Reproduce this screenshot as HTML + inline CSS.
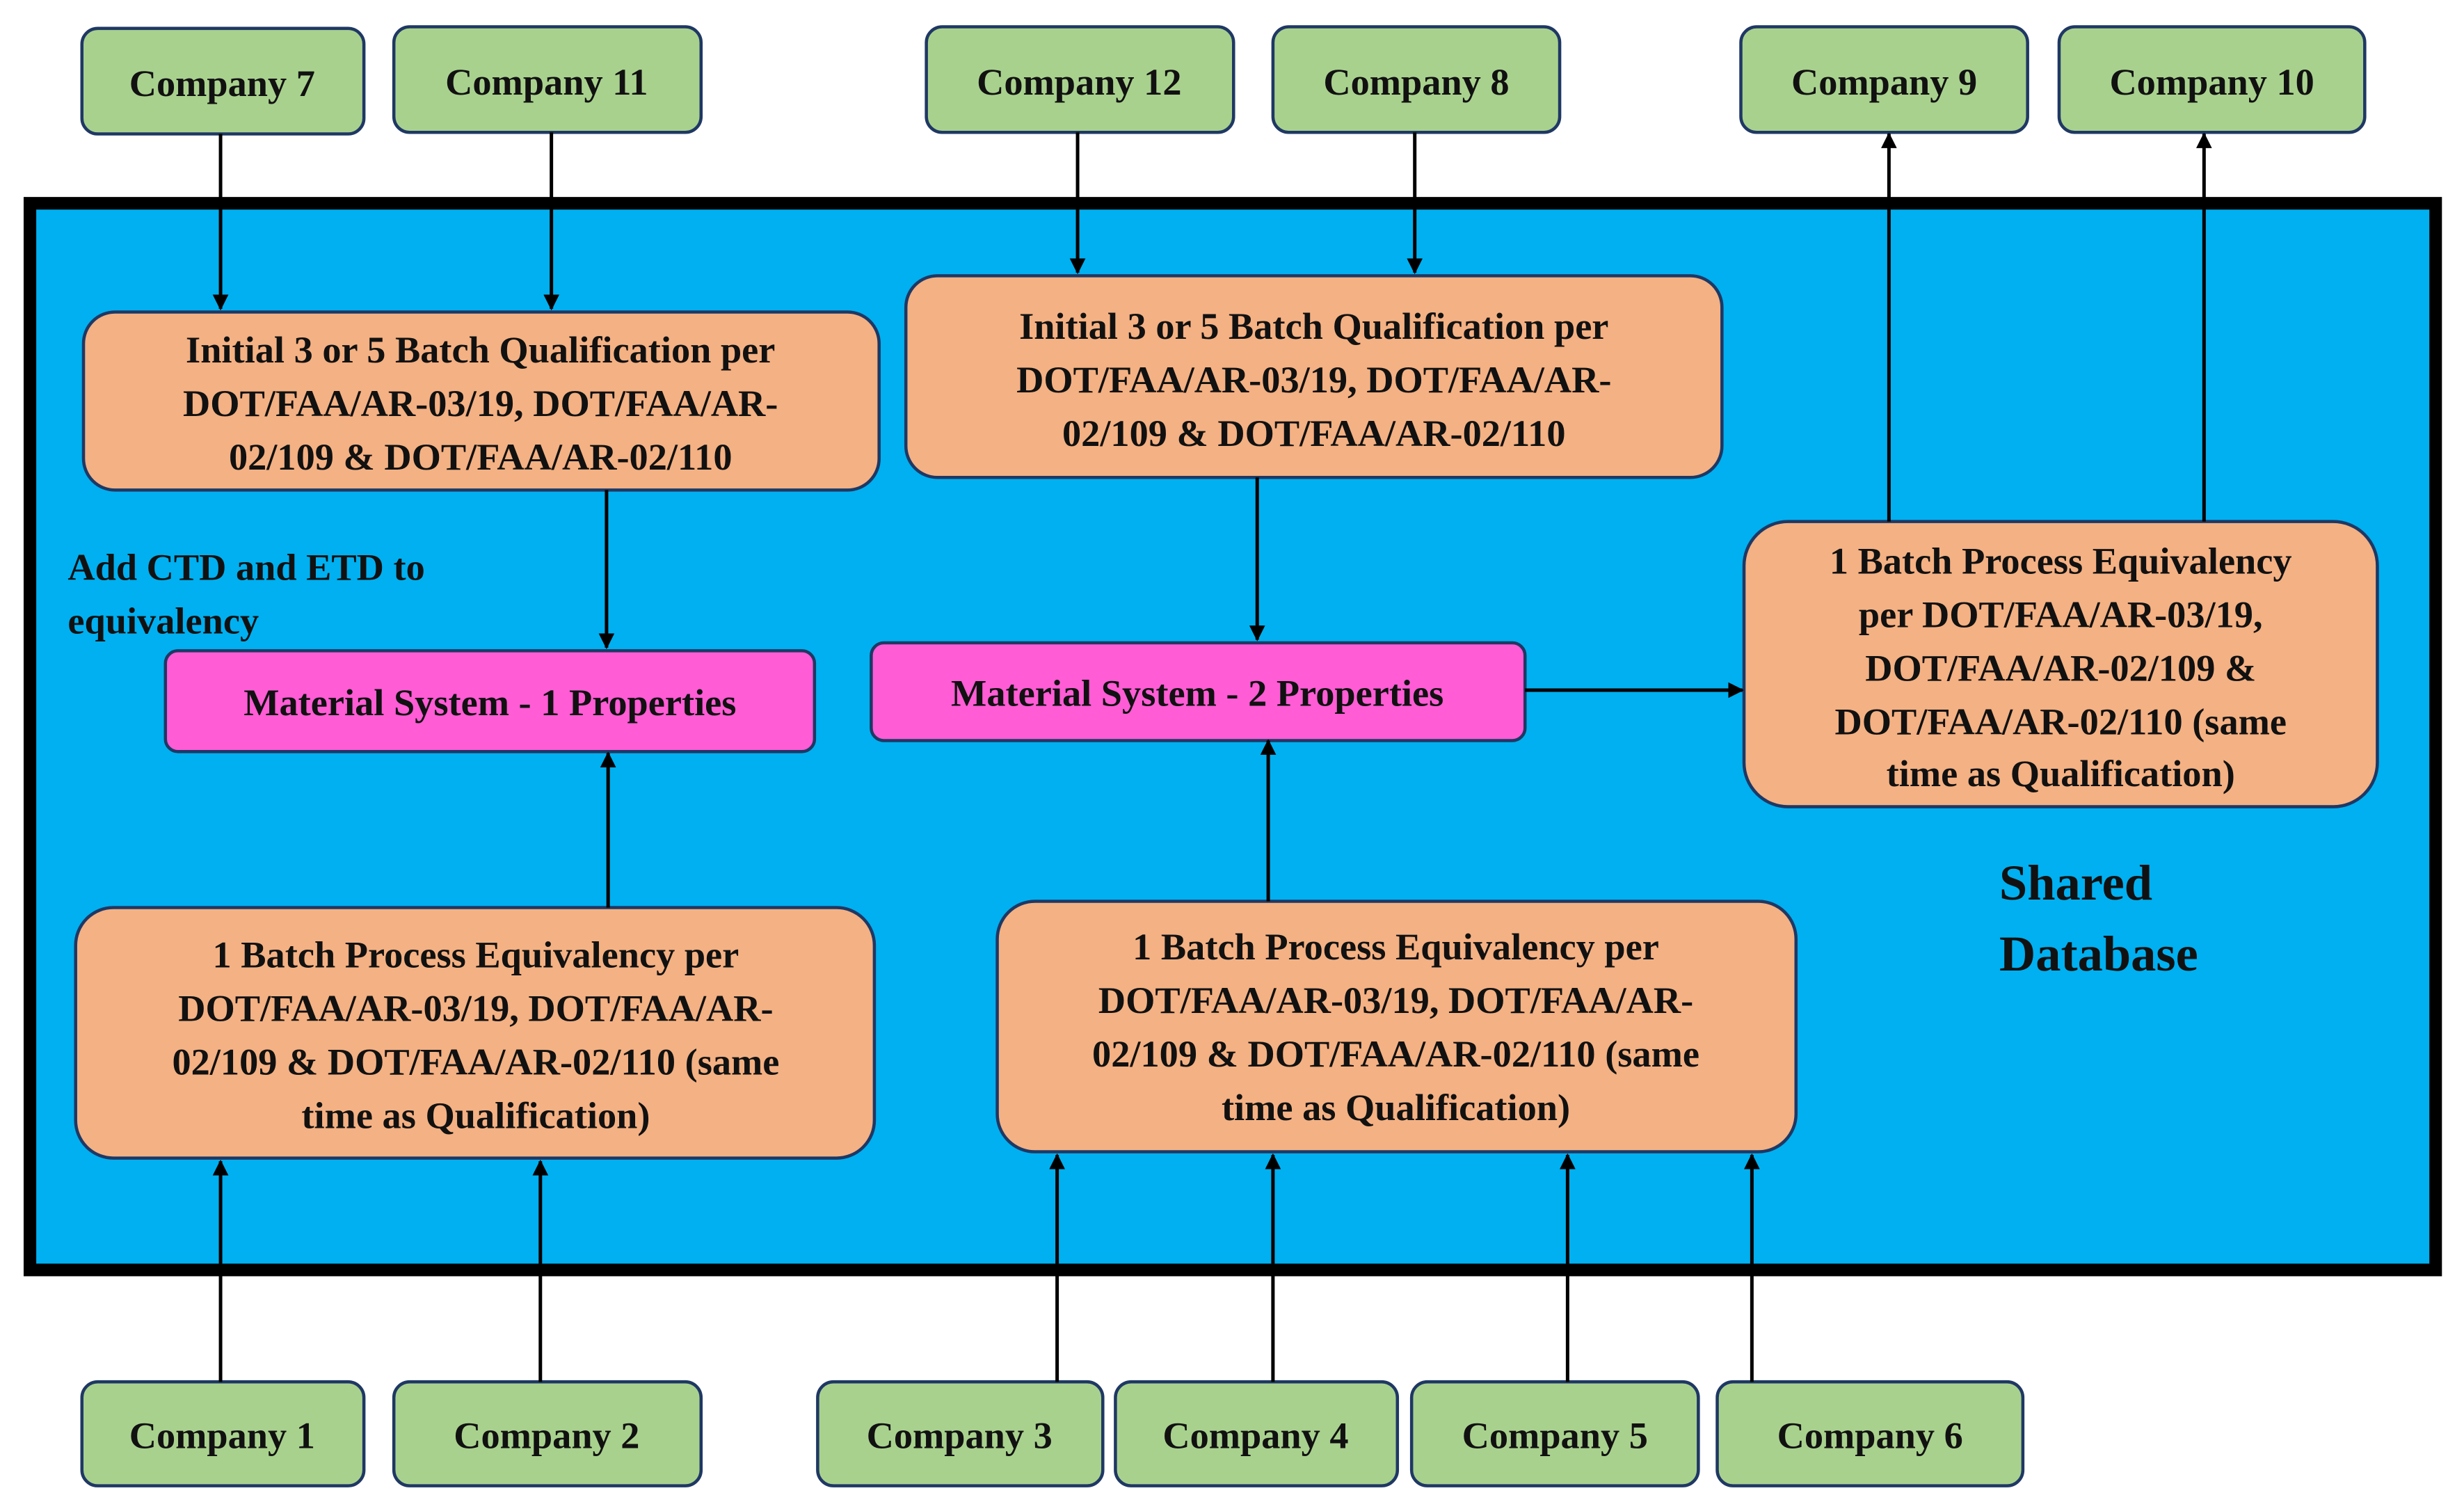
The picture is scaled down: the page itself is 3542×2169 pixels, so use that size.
<!DOCTYPE html>
<html><head><meta charset="utf-8"><style>
html,body{margin:0;padding:0;background:#fff;}
svg{display:block;}
text{font-family:"Liberation Serif",serif;font-weight:bold;fill:#111;}
</style></head><body>
<svg width="3542" height="2169" viewBox="0 0 1564 957.7" xmlns="http://www.w3.org/2000/svg">
<defs><marker id="a" markerWidth="10" markerHeight="10" refX="9" refY="5" orient="auto" markerUnits="userSpaceOnUse"><path d="M0,0 L10,5 L0,10 z" fill="#000"/></marker></defs>
<rect x="19" y="129" width="1527" height="677" fill="#00B0F0" stroke="#000" stroke-width="8"/>
<g fill="#A9D18E" stroke="#1F3864" stroke-width="2">
<rect x="52" y="18" width="179" height="67" rx="10"/>
<rect x="250" y="17" width="195" height="67" rx="10"/>
<rect x="588" y="17" width="195" height="67" rx="10"/>
<rect x="808" y="17" width="182" height="67" rx="10"/>
<rect x="1105" y="17" width="182" height="67" rx="10"/>
<rect x="1307" y="17" width="194" height="67" rx="10"/>
<rect x="52" y="877" width="179" height="66" rx="10"/>
<rect x="250" y="877" width="195" height="66" rx="10"/>
<rect x="519" y="877" width="181" height="66" rx="10"/>
<rect x="708" y="877" width="179" height="66" rx="10"/>
<rect x="896" y="877" width="182" height="66" rx="10"/>
<rect x="1090" y="877" width="194" height="66" rx="10"/>
</g>
<g fill="#F4B183" stroke="#1F3864" stroke-width="2">
<rect x="53" y="198" width="505" height="113" rx="20"/>
<rect x="575" y="175" width="518" height="128" rx="20"/>
<rect x="48" y="576" width="507" height="159" rx="24"/>
<rect x="633" y="572" width="507" height="159" rx="24"/>
<rect x="1107" y="331" width="402" height="181" rx="28"/>
</g>
<g fill="#FF5CD6" stroke="#1F3864" stroke-width="2">
<rect x="105" y="413" width="412" height="64" rx="8"/>
<rect x="553" y="408" width="415" height="62" rx="8"/>
</g>
<g stroke="#000" stroke-width="2.2" marker-end="url(#a)" fill="none">
<line x1="140" y1="85" x2="140" y2="196"/>
<line x1="350" y1="84" x2="350" y2="196"/>
<line x1="684" y1="84" x2="684" y2="173"/>
<line x1="898" y1="84" x2="898" y2="173"/>
<line x1="385" y1="311" x2="385" y2="411"/>
<line x1="798" y1="303" x2="798" y2="406"/>
<line x1="386" y1="576" x2="386" y2="478"/>
<line x1="805" y1="572" x2="805" y2="470"/>
<line x1="968" y1="438" x2="1106" y2="438"/>
<line x1="1199" y1="331" x2="1199" y2="85"/>
<line x1="1399" y1="331" x2="1399" y2="85"/>
<line x1="140" y1="877" x2="140" y2="737"/>
<line x1="343" y1="877" x2="343" y2="737"/>
<line x1="671" y1="877" x2="671" y2="733"/>
<line x1="808" y1="877" x2="808" y2="733"/>
<line x1="995" y1="877" x2="995" y2="733"/>
<line x1="1112" y1="877" x2="1112" y2="733"/>
</g>
<g font-size="24" text-anchor="middle">
<text x="141" y="61">Company 7</text>
<text x="347" y="60">Company 11</text>
<text x="685" y="60">Company 12</text>
<text x="899" y="60">Company 8</text>
<text x="1196" y="60">Company 9</text>
<text x="1404" y="60">Company 10</text>
<text x="141" y="919">Company 1</text>
<text x="347" y="919">Company 2</text>
<text x="609" y="919">Company 3</text>
<text x="797" y="919">Company 4</text>
<text x="987" y="919">Company 5</text>
<text x="1187" y="919">Company 6</text>
<text x="305" y="230">Initial 3 or 5 Batch Qualification per</text>
<text x="305" y="264">DOT/FAA/AR-03/19, DOT/FAA/AR-</text>
<text x="305" y="298">02/109 &amp; DOT/FAA/AR-02/110</text>
<text x="834" y="215">Initial 3 or 5 Batch Qualification per</text>
<text x="834" y="249">DOT/FAA/AR-03/19, DOT/FAA/AR-</text>
<text x="834" y="283">02/109 &amp; DOT/FAA/AR-02/110</text>
<text x="302" y="614">1 Batch Process Equivalency per</text>
<text x="302" y="648">DOT/FAA/AR-03/19, DOT/FAA/AR-</text>
<text x="302" y="682">02/109 &amp; DOT/FAA/AR-02/110 (same</text>
<text x="302" y="716">time as Qualification)</text>
<text x="886" y="609">1 Batch Process Equivalency per</text>
<text x="886" y="643">DOT/FAA/AR-03/19, DOT/FAA/AR-</text>
<text x="886" y="677">02/109 &amp; DOT/FAA/AR-02/110 (same</text>
<text x="886" y="711">time as Qualification)</text>
<text x="1308" y="364">1 Batch Process Equivalency</text>
<text x="1308" y="398">per DOT/FAA/AR-03/19,</text>
<text x="1308" y="432">DOT/FAA/AR-02/109 &amp;</text>
<text x="1308" y="466">DOT/FAA/AR-02/110 (same</text>
<text x="1308" y="499">time as Qualification)</text>
<text x="311" y="454">Material System - 1 Properties</text>
<text x="760" y="448">Material System - 2 Properties</text>
</g>
<g font-size="24">
<text x="43" y="368">Add CTD and ETD to</text>
<text x="43" y="402">equivalency</text>
</g>
<g font-size="32">
<text x="1269" y="571">Shared</text>
<text x="1269" y="616">Database</text>
</g>
</svg>
</body></html>
